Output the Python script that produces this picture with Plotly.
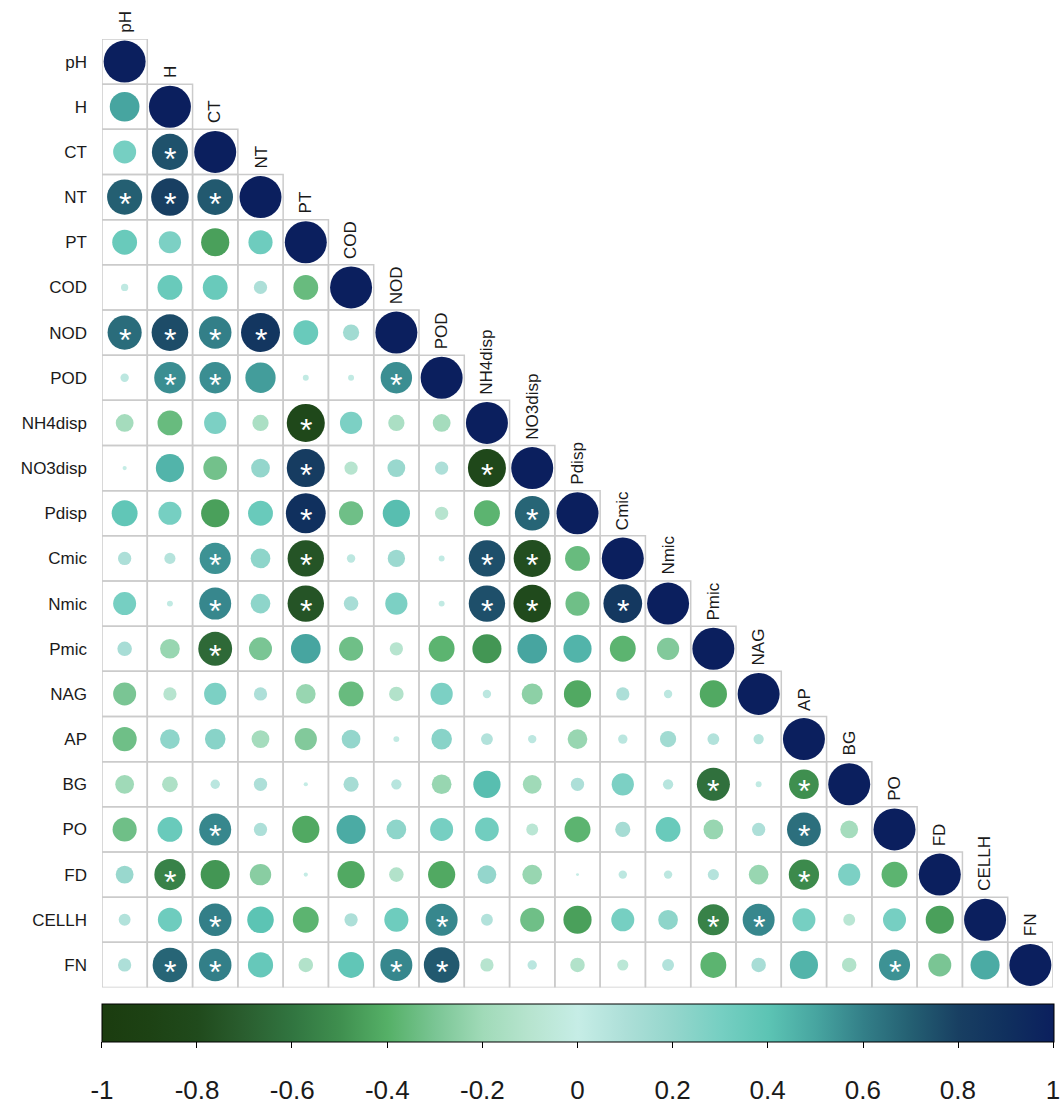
import numpy as np
import plotly.graph_objects as go

variables = ["pH", "H", "CT", "NT", "PT", "COD", "NOD", "POD", "NH4disp", "NO3disp",
             "Pdisp", "Cmic", "Nmic", "Pmic", "NAG", "AP", "BG", "PO", "FD", "CELLH", "FN"]

# Lower-triangle Pearson coefficients: each row lists r with the preceding variables
r_H = [0.50]
r_CT = [0.30, 0.74]
r_NT = [0.70, 0.80, 0.72]
r_PT = [0.35, 0.28, -0.45, 0.33]
r_COD = [0.03, 0.35, 0.35, 0.10, -0.35]
r_NOD = [0.66, 0.76, 0.60, 0.86, 0.35, 0.15]
r_POD = [0.04, 0.56, 0.56, 0.52, 0.02, 0.02, 0.56]
r_NH4disp = [-0.18, -0.35, 0.28, -0.15, -0.82, 0.28, -0.15, -0.18]
r_NO3disp = [0.01, 0.45, -0.32, 0.20, 0.82, -0.10, 0.18, 0.10, -0.82]
r_Pdisp = [0.38, 0.30, -0.45, 0.35, 0.90, -0.33, 0.42, -0.10, -0.38, 0.68]
r_Cmic = [0.10, 0.07, 0.55, 0.22, -0.75, 0.04, 0.17, 0.02, 0.75, -0.78, -0.35]
r_Nmic = [0.30, 0.02, 0.58, 0.22, -0.75, 0.12, 0.28, 0.02, 0.75, -0.80, -0.33, 0.85]
r_Pmic = [0.12, -0.22, -0.65, -0.30, 0.50, -0.33, -0.10, -0.38, -0.48, 0.50, 0.45, -0.38, -0.28]
r_NAG = [-0.30, -0.10, 0.28, 0.10, -0.22, -0.35, -0.12, 0.28, 0.04, -0.25, -0.42, 0.10, 0.04, -0.42]
r_AP = [-0.33, 0.22, 0.24, -0.18, -0.28, 0.20, 0.02, 0.24, 0.08, 0.04, -0.22, 0.05, 0.15, 0.08, 0.06]
r_BG = [-0.20, -0.14, 0.05, 0.10, 0.01, 0.13, 0.06, -0.22, 0.42, -0.20, 0.10, 0.28, 0.06, -0.62,
        0.02, -0.50]
r_PO = [-0.33, 0.35, 0.58, 0.10, -0.42, 0.48, 0.22, 0.30, 0.32, -0.08, -0.38, 0.13, 0.35, -0.22,
        0.10, 0.65, -0.18]
r_FD = [0.18, -0.55, -0.48, -0.26, 0.01, -0.42, -0.12, -0.42, 0.20, -0.22, 0.005, 0.04, 0.04, 0.07,
        -0.22, -0.52, 0.28, -0.38]
r_CELLH = [0.08, 0.33, 0.60, 0.40, -0.38, 0.10, 0.33, 0.58, 0.08, -0.33, -0.45, 0.30, 0.22, -0.55,
           0.58, 0.30, -0.08, 0.30, -0.45]
r_FN = [0.10, 0.68, 0.60, 0.36, -0.12, 0.38, 0.58, 0.72, -0.10, 0.05, -0.12, -0.07, 0.08, -0.38,
        0.12, 0.45, -0.12, 0.55, -0.30, 0.48]

# Pairs significant at p < 0.05 (row variable -> column variables)
significant = {
    "CT": ["H"],
    "NT": ["pH", "H", "CT"],
    "NOD": ["pH", "H", "CT", "NT"],
    "POD": ["H", "CT", "NOD"],
    "NH4disp": ["PT"],
    "NO3disp": ["PT", "NH4disp"],
    "Pdisp": ["PT", "NO3disp"],
    "Cmic": ["CT", "PT", "NH4disp", "NO3disp"],
    "Nmic": ["CT", "PT", "NH4disp", "NO3disp", "Cmic"],
    "Pmic": ["CT"],
    "BG": ["Pmic", "AP"],
    "PO": ["CT", "AP"],
    "FD": ["H", "AP"],
    "CELLH": ["CT", "POD", "Pmic", "NAG"],
    "FN": ["H", "CT", "NOD", "POD", "PO"],
}

lower_rows = [[], r_H, r_CT, r_NT, r_PT, r_COD, r_NOD, r_POD, r_NH4disp, r_NO3disp, r_Pdisp,
              r_Cmic, r_Nmic, r_Pmic, r_NAG, r_AP, r_BG, r_PO, r_FD, r_CELLH, r_FN]

colorbar_ticks = [-1, -0.8, -0.6, -0.4, -0.2, 0, 0.2, 0.4, 0.6, 0.8, 1]

n = len(variables)
colorscale = [
    [0.00, "#1b3c0f"], [0.05, "#1d4214"], [0.10, "#204a1c"], [0.15, "#2a5e2f"],
    [0.20, "#317540"], [0.25, "#3f8f4f"], [0.30, "#55b067"], [0.35, "#7ac594"],
    [0.40, "#a0dab8"], [0.45, "#b7e4cf"], [0.50, "#c6ede6"], [0.55, "#addfd8"],
    [0.60, "#94d6cc"], [0.65, "#76cfc2"], [0.70, "#5cc4b4"], [0.75, "#47a5a0"],
    [0.80, "#337f88"], [0.85, "#245f72"], [0.90, "#183f62"], [0.95, "#10305e"],
    [1.00, "#0b1f5e"],
]

xs, ys, vals = [], [], []
for i in range(n):
    for j, r in enumerate(lower_rows[i] + [1.0]):
        xs.append(j)
        ys.append(i)
        vals.append(r)
vals = np.array(vals)
max_diam = 42
sizes = max_diam * np.sqrt(np.abs(vals))

font_family = "Liberation Sans, Arial, Helvetica, sans-serif"

# page geometry (px)
W, H = 1060, 1105
left, right, top = 102, 6, 39
grid_bottom = 992          # bottom edge of the matrix
bar_top, bar_bottom = 1009, 1047
area_h = H - top           # plotting area reaches the page bottom


def frac(px_from_top):
    return (H - px_from_top) / area_h


fig = go.Figure()
fig.add_trace(go.Scatter(
    x=xs, y=ys, mode="markers",
    marker=dict(
        size=sizes, color=vals, colorscale=colorscale, cmin=-1, cmax=1,
        opacity=1, line=dict(width=0),
        colorbar=dict(
            orientation="h", x=0.5, xanchor="center", y=frac(bar_top), yanchor="top",
            len=W - left - right, lenmode="pixels", thickness=bar_bottom - bar_top,
            xpad=0, ypad=0, outlinewidth=1, outlinecolor="#000000",
            ticks="outside", ticklen=6, tickwidth=1, tickcolor="#000000",
            tickvals=colorbar_ticks, showticklabels=False,
        ),
    ),
    hovertemplate="%{text}<extra></extra>",
    text=[f"{variables[y]} ~ {variables[x]}: {v:.2f}" for x, y, v in zip(xs, ys, vals)],
    showlegend=False,
))
# empty trace that activates the scale axis under the colour bar
fig.add_trace(go.Scatter(x=[], y=[], xaxis="x2", yaxis="y2", mode="markers",
                         hoverinfo="skip", showlegend=False))

# cell borders of the lower triangle (diagonal included)
shapes = []
for i in range(n):
    for j in range(i + 1):
        shapes.append(dict(type="rect", xref="x", yref="y", x0=j - 0.5, x1=j + 0.5,
                           y0=i - 0.5, y1=i + 0.5, layer="below",
                           line=dict(color="#cbcbcb", width=1.5)))

annotations = []
# column names stacked above each diagonal cell
for i, name in enumerate(variables):
    annotations.append(dict(x=i, y=i - 0.5, xref="x", yref="y", text=name, showarrow=False,
                            textangle=-90, xanchor="center", yanchor="bottom", yshift=4,
                            font=dict(family=font_family, size=17, color="#1a1a1a")))
# significance stars
for row_name, cols in significant.items():
    i = variables.index(row_name)
    for col_name in cols:
        j = variables.index(col_name)
        annotations.append(dict(x=j, y=i, xref="x", yref="y", text="*", showarrow=False,
                                xanchor="center", yanchor="middle", yshift=-7,
                                font=dict(family=font_family, size=32, color="#ffffff")))

fig.update_layout(
    width=W, height=H,
    margin=dict(l=left, r=right, t=top, b=0),
    paper_bgcolor="#ffffff", plot_bgcolor="rgba(0,0,0,0)",
    xaxis=dict(range=[-0.5, n - 0.5], visible=False, fixedrange=True),
    yaxis=dict(domain=[frac(grid_bottom), 1], range=[n - 0.5, -0.5], tickmode="array",
               tickvals=list(range(n)), ticktext=variables, ticks="", showgrid=False,
               zeroline=False, showline=False, ticklabelstandoff=14, fixedrange=True,
               tickfont=dict(family=font_family, size=17, color="#1a1a1a")),
    # scale axis carrying the colour-bar labels, sitting on the bar's lower edge
    xaxis2=dict(domain=[0, 1], anchor="y2", range=[-1, 1], tickmode="array",
                tickvals=colorbar_ticks, ticktext=[f"{t:g}" for t in colorbar_ticks],
                ticks="", showline=False, showgrid=False, zeroline=False,
                ticklabelstandoff=30, ticklabeloverflow="allow", fixedrange=True,
                tickfont=dict(family=font_family, size=26, color="#1a1a1a")),
    yaxis2=dict(domain=[frac(bar_bottom), frac(bar_top)], anchor="x2", visible=False,
                range=[0, 1], fixedrange=True),
    shapes=shapes,
    annotations=annotations,
)

fig.write_html("out.html")
